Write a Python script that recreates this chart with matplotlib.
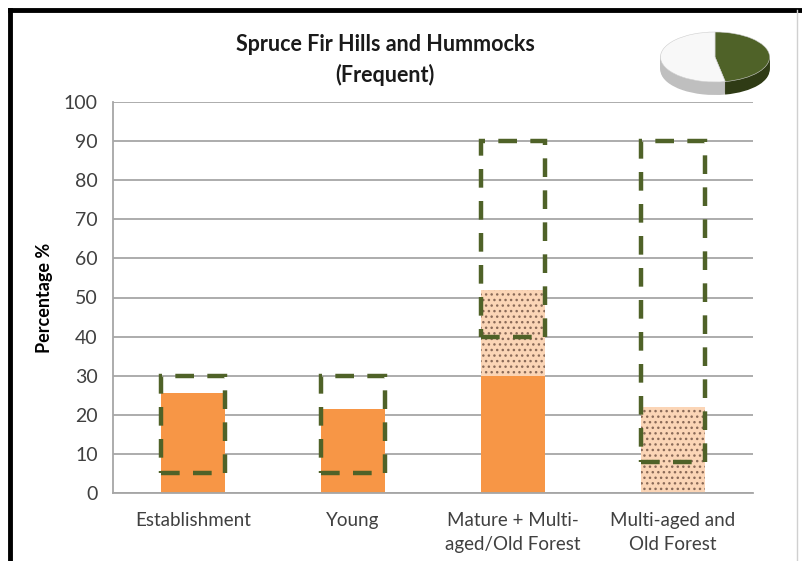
import numpy as np
import matplotlib.pyplot as plt
from matplotlib.patches import Rectangle
from matplotlib.lines import Line2D

plt.rcParams['font.family'] = ['Lato', 'DejaVu Sans']
plt.rcParams['hatch.linewidth'] = 1.0

# Data
categories = ['Establishment', 'Young', 'Mature + Multi-\naged/Old Forest',
              'Multi-aged and\nOld Forest']
solid_values = [25.5, 21.5, 30, 0]        # current (solid orange)
dotted_values = [0, 0, 22, 22]            # additional (dotted) on top of solid
range_low = [5, 5, 40, 8]                 # dashed range box
range_high = [30, 30, 90, 90]
pie_labels = ['Frequent', 'Other']
pie_values = [47, 53]

orange = '#F79646'
peach = '#FBD5B6'
olive = '#4F6228'

fig = plt.figure(figsize=(8.02, 5.61), dpi=100)
ax = fig.add_axes([113 / 802, 1 - 493 / 561, 640 / 802, 391 / 561])

x = np.arange(len(categories))
w = 0.4
ax.bar(x, solid_values, width=w, color=orange, zorder=2)
ax.bar(x, dotted_values, width=w, bottom=solid_values, color=peach,
       edgecolor='#8A6A58', linewidth=0, hatch='...', zorder=2)

for xi, lo, hi in zip(x, range_low, range_high):
    ax.add_patch(Rectangle((xi - w / 2, lo), w, hi - lo, fill=False,
                           edgecolor=olive, linewidth=3.2,
                           linestyle=(0, (4.2, 3.0)), zorder=3))

ax.set_xlim(-0.5, len(categories) - 0.5)
ax.set_ylim(0, 100)
ax.set_yticks(np.arange(0, 101, 10))
ax.set_xticks(x)
ax.set_xticklabels(categories, linespacing=1.5)
ax.yaxis.grid(True, color='#A6A6A6', linewidth=1.3)
ax.set_axisbelow(True)
for s in ['top', 'right']:
    ax.spines[s].set_visible(False)
ax.spines['left'].set_color('#A6A6A6')
ax.spines['bottom'].set_color('#A6A6A6')
ax.spines['left'].set_linewidth(1.3)
ax.spines['bottom'].set_linewidth(1.3)
ax.tick_params(axis='y', length=0, pad=11, labelsize=14, labelcolor='#404040')
ax.tick_params(axis='x', length=0, pad=14, labelsize=13.5, labelcolor='#404040')
ax.set_ylabel('Percentage %', fontsize=13, fontweight='bold')
ax.yaxis.set_label_coords(-0.093, 0.5)

fig.text(385 / 802, 1 - 60 / 561,
         'Spruce Fir Hills and Hummocks\n(Frequent)', ha='center', va='center',
         fontsize=15.5, fontweight='bold', linespacing=1.45, color='#1a1a1a')

# 3D-looking pie in the corner
pax = fig.add_axes([655 / 802, 1 - 100 / 561, 120 / 802, 72 / 561])
pax.axis('off')
depth = 0.52
for d in np.linspace(depth, 0.02, 14):
    pax.pie(pie_values, colors=['#2F3B15', '#BFBFBF'], startangle=90,
            counterclock=False, center=(0, -d), radius=1,
            wedgeprops=dict(linewidth=0))
pax.pie(pie_values, colors=['#4F6228', '#F8F8F8'], startangle=90,
        counterclock=False, center=(0, 0), radius=1,
        wedgeprops=dict(linewidth=0.4, edgecolor='#D0D0D0'))
pax.set_aspect('auto')
pax.set_xlim(-1.1, 1.1)
pax.set_ylim(-1.72, 1.16)

# Frame lines of the original screenshot
fig.add_artist(Line2D([10 / 802, 10 / 802], [0, 1 - 10 / 561],
                      transform=fig.transFigure, color='black', linewidth=3.5))
fig.add_artist(Line2D([10 / 802, 1], [1 - 10 / 561, 1 - 10 / 561],
                      transform=fig.transFigure, color='black', linewidth=3.5))
fig.add_artist(Line2D([797 / 802, 797 / 802], [0, 1 - 10 / 561],
                      transform=fig.transFigure, color='#D0D0D0', linewidth=1))

fig.savefig('out.png', dpi=100)
